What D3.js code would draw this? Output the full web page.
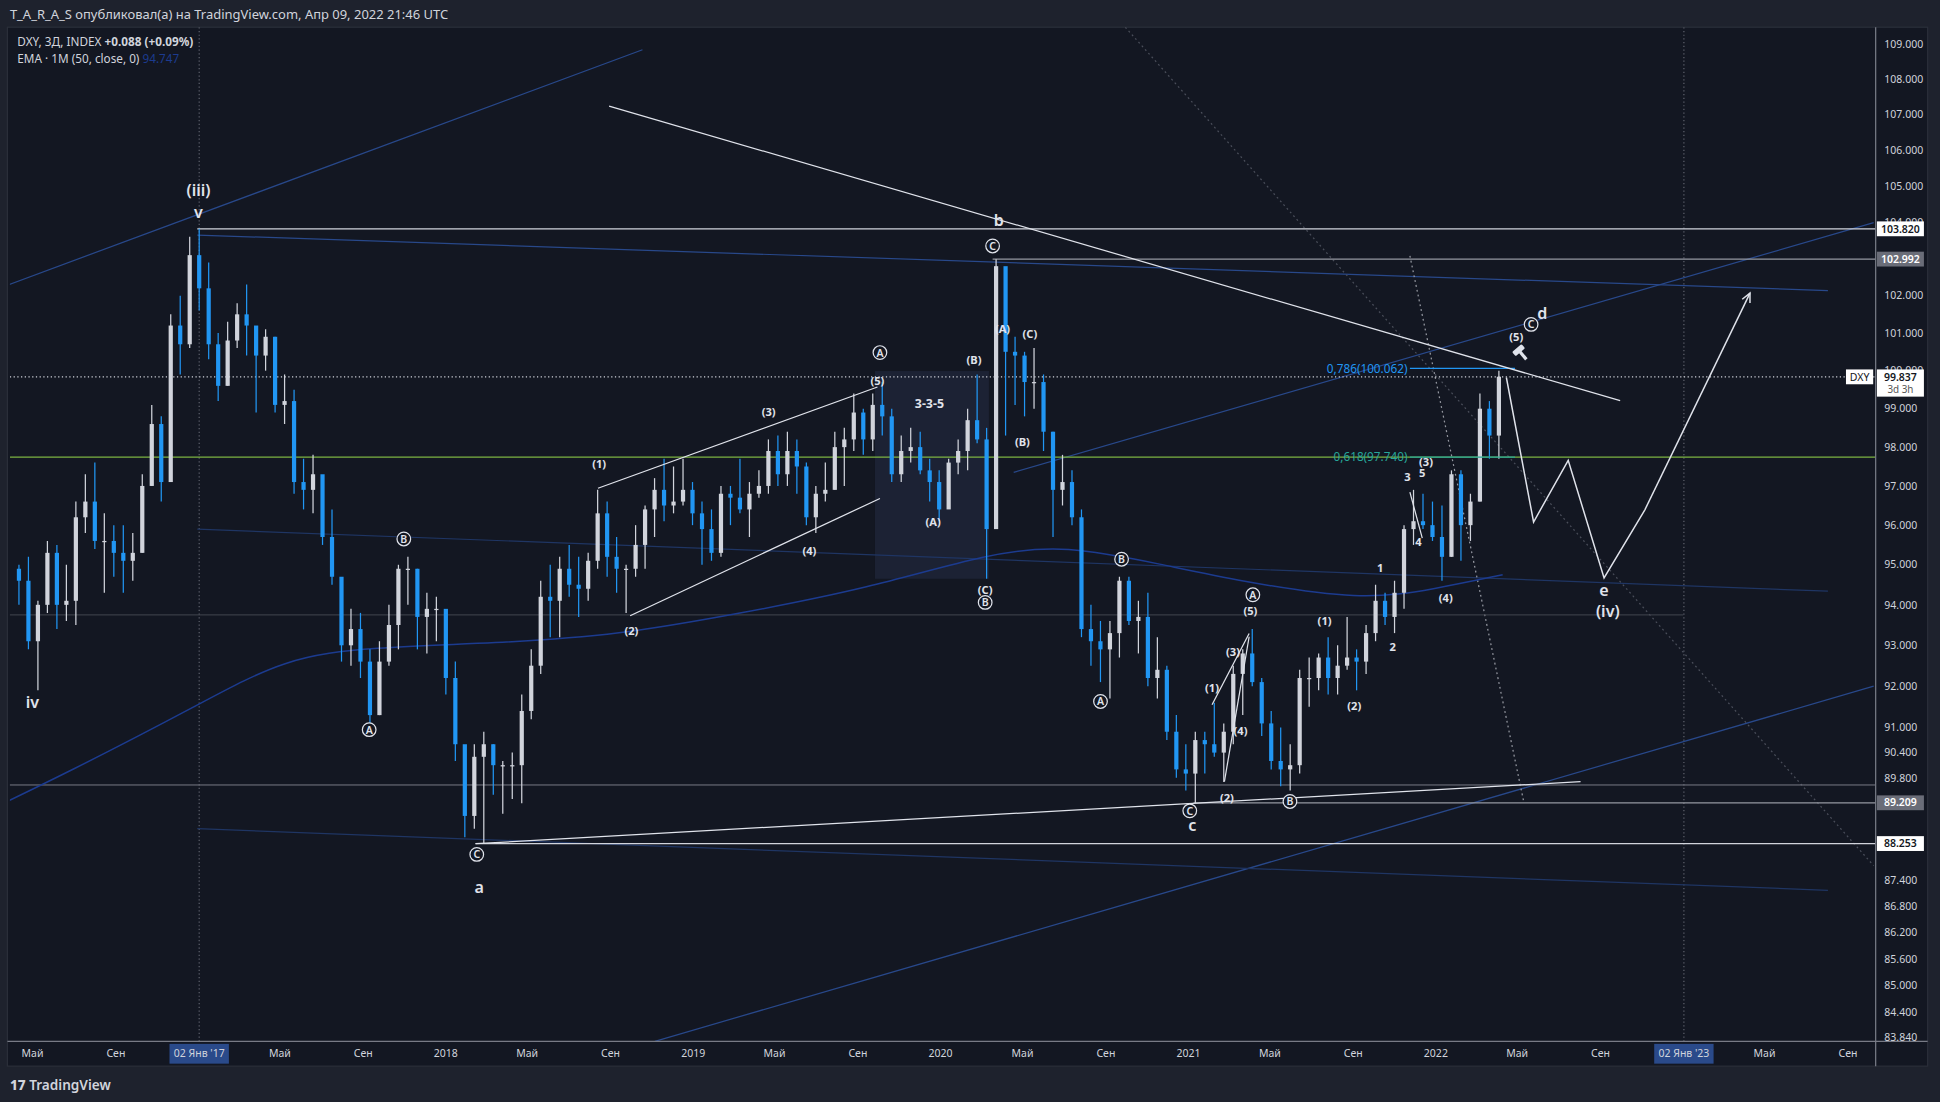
<!DOCTYPE html>
<html>
<head>
<meta charset="utf-8">
<script src="https://cdn.jsdelivr.net/npm/d3@7/dist/d3.min.js"></script>
<style>
  html, body { margin: 0; padding: 0; background: #1e222d; overflow: hidden; }
  svg text { font-family: "Noto Sans", "DejaVu Sans", sans-serif; }
</style>
</head>
<body>
<svg id="chart" width="1940" height="1102" viewBox="0 0 1568 891" preserveAspectRatio="none"></svg>
<script>
// ---- data: 2-week DXY candles starting 2016-04-04 ----
const startDate = new Date(2016, 3, 4);
const closes = [94.6,93.1,94.0,95.3,94.0,94.1,96.2,96.6,95.6,95.6,95.3,95.1,95.3,97.0,98.6,97.1,101.2,100.7,103.1,102.2,
  100.7,99.6,100.8,101.5,101.2,100.4,100.9,99.1,99.2,97.1,96.9,97.3,95.7,94.7,93.0,93.4,92.6,91.3,92.6,93.5,
  94.9,94.9,93.7,93.9,93.9,92.2,90.6,88.9,90.3,90.6,90.1,90.1,90.1,91.4,92.5,94.2,94.1,94.9,94.5,94.4,
  95.1,96.3,95.2,94.9,94.9,95.5,96.4,96.9,96.5,96.6,96.9,96.3,95.9,95.3,96.8,96.7,96.4,96.8,97.0,97.9,
  97.3,97.9,97.5,96.2,96.8,96.9,98.0,98.2,98.9,98.2,99.1,98.8,97.3,97.9,98.0,97.4,97.1,96.4,97.6,97.9,
  98.7,98.2,95.9,102.8,100.5,100.4,99.7,99.7,98.4,96.9,97.1,96.2,93.4,93.1,92.9,93.3,94.6,93.6,93.7,92.2,
  92.4,90.9,90.0,89.9,90.7,90.6,90.4,90.9,92.3,92.8,92.1,91.1,90.2,90.0,90.1,92.2,92.2,92.7,92.2,92.5,
  92.7,92.6,93.3,94.1,93.7,94.3,95.9,96.1,96.0,95.7,95.2,97.3,96.0,96.6,99.0,98.3,99.84];
const highs = [95.0,95.2,94.1,95.6,95.5,95.0,96.6,97.3,97.6,96.3,96.0,96.0,95.8,97.3,99.1,98.8,101.5,102.0,103.6,103.82,
  102.9,101.0,101.3,101.8,102.3,101.1,101.1,100.9,99.9,99.5,97.7,97.8,97.2,96.4,94.5,93.9,93.8,92.9,93.1,94.0,
  95.0,95.2,94.9,94.3,94.2,93.8,92.6,90.5,90.6,90.9,90.6,90.2,90.4,91.8,92.9,94.6,95.0,95.2,95.5,95.2,
  95.3,96.9,96.6,95.7,95.0,96.0,96.5,97.2,97.7,97.5,97.7,97.1,96.6,96.4,97.0,97.0,97.7,97.1,97.4,98.2,
  98.3,98.4,98.2,97.6,97.0,97.6,98.4,98.5,99.4,99.0,99.4,99.7,99.0,98.3,98.5,98.4,97.7,97.4,97.7,98.2,
  99.0,99.9,98.5,102.99,101.0,100.9,100.5,100.6,99.9,98.4,97.8,97.4,96.4,94.0,93.6,93.6,94.7,94.7,94.1,94.3,
  93.2,92.5,91.3,90.6,90.9,90.9,91.6,91.1,92.5,92.9,93.4,92.2,91.4,91.0,90.6,92.4,92.7,92.8,93.2,93.0,
  93.7,92.9,93.5,94.5,94.3,94.6,96.0,96.9,96.8,96.6,96.5,97.4,97.4,96.8,99.4,99.2,100.0];
const lows = [94.0,92.9,91.9,93.8,93.4,93.6,93.5,95.8,95.4,94.3,94.7,94.3,94.6,95.3,97.0,96.6,97.3,99.9,100.6,101.6,
  100.3,99.2,99.6,100.6,100.4,98.9,100.0,98.9,98.6,96.8,96.4,96.3,95.5,94.5,92.6,92.5,92.2,91.0,91.3,92.5,
  92.9,94.0,92.9,92.8,93.1,91.8,90.2,88.4,88.6,88.25,89.4,88.95,89.3,89.2,91.2,92.3,93.2,93.2,94.2,93.7,
  94.1,94.9,94.7,94.3,93.8,94.7,94.9,95.7,96.1,96.3,96.5,96.0,95.0,95.1,95.2,96.0,96.3,95.7,96.7,96.8,
  97.0,97.0,96.8,96.0,95.8,96.6,96.9,97.0,97.9,97.8,97.9,98.3,97.1,97.1,97.6,97.3,96.6,96.1,96.5,97.3,
  97.4,98.1,94.65,95.9,98.3,99.1,98.8,99.0,97.9,95.7,96.5,96.0,93.2,92.5,92.1,91.7,92.7,93.5,92.8,92.0,
  91.7,90.7,89.8,89.5,89.2,89.9,90.3,89.7,90.6,91.3,92.0,90.8,90.0,89.6,89.5,89.9,91.5,91.9,91.8,91.8,
  92.4,91.9,92.3,93.1,93.5,93.3,93.9,95.5,95.9,95.6,94.6,95.2,95.1,95.6,96.6,97.7,97.7];

// EMA 1M(50) reading
const emaYears = [2016.0, 2016.5, 2017.0, 2017.35, 2017.7, 2018.2, 2018.7, 2019.2, 2019.7, 2020.2, 2020.5, 2020.9, 2021.2, 2021.7, 2022.0, 2022.27];
const emaValues = [88.6, 90.0, 91.55, 92.7, 92.95, 93.05, 93.25, 93.8, 94.4, 95.3, 95.5, 95.0, 94.6, 94.1, 94.4, 94.75];

const priceTicks = [109, 108, 107, 106, 105, 104, 103, 102, 101, 100, 99, 98, 97, 96, 95, 94, 93, 92, 91, 90.4, 89.8, 87.4, 86.8, 86.2, 85.6, 85.0, 84.4, 83.84];
const timeTicks = [["2016-05-01","Май"],["2016-09-01","Сен"],["2017-01-02","02 Янв '17"],["2017-05-01","Май"],["2017-09-01","Сен"],
  ["2018-01-01","2018"],["2018-05-01","Май"],["2018-09-01","Сен"],["2019-01-01","2019"],["2019-05-01","Май"],["2019-09-01","Сен"],
  ["2020-01-01","2020"],["2020-05-01","Май"],["2020-09-01","Сен"],["2021-01-01","2021"],["2021-05-01","Май"],["2021-09-01","Сен"],
  ["2022-01-01","2022"],["2022-05-01","Май"],["2022-09-01","Сен"],["2023-01-02","02 Янв '23"],["2023-05-01","Май"],["2023-09-01","Сен"]];

// drawings [year, price]
const triangleUpper = [[2018.66, 107.24], [2022.745, 99.21]];
const triangleLower = [[2018.12, 88.25], [2022.585, 89.71]];
const channelTop = [[2018.615, 96.94], [2019.745, 99.57]];
const channelBottom = [[2018.745, 93.73], [2019.755, 96.68]];
const blueLines = [
  [[2016.235, 102.30], [2018.795, 108.85]],
  [[2016.995, 103.65], [2023.585, 102.14]],
  [[2020.295, 97.35], [2023.77, 103.99]],
  [[2018.845, 83.76], [2023.77, 92.0]],
  [[2016.995, 88.6], [2023.585, 87.17]],
  [[2016.995, 95.9], [2023.585, 94.34]]];
const dottedLines = [[[2020.745, 109.5], [2023.77, 87.74]], [[2021.895, 103.08], [2022.355, 89.24]]];
const projection = [[2022.285, 99.82], [2022.395, 96.08], [2022.535, 97.66], [2022.68, 94.67], [2022.845, 96.39]];
const projectionArrow = [[2022.845, 96.39], [2023.27, 102.07]];
const smallWaves = [[[2021.095, 91.55], [2021.245, 93.29]], [[2021.145, 89.71], [2021.245, 93.21]], [[2021.895, 96.84], [2021.945, 95.67]]];
const boxZone = [[2019.735, 99.99], [2020.195, 94.65]];
const levels = [
  { p: 103.82, from: 2016.995, color: "#d1d4dc", w: 1 },
  { p: 102.992, from: 2020.21, color: "#9598a1", w: 1 },
  { p: 89.209, from: 2021.02, color: "#9598a1", w: 1 },
  { p: 88.253, from: 2018.12, color: "#d1d4dc", w: 1 },
  { p: 89.63, from: 2016.0, color: "#787b86", w: 0.8 },
  { p: 93.75, from: 2016.0, to: 2023.0, color: "#434651", w: 0.8 }];
const fibs = [{ p: 100.062, label: "0,786(100.062)", color: "#2196f3" }, { p: 97.74, label: "0,618(97.740)", color: "#26a69a" }];

const bigLabels = [["(iii)", 2017.0, 104.9], ["v", 2017.0, 104.3], ["iv", 2016.33, 91.63], ["a", 2018.135, 87.25], ["b", 2020.235, 104.06],
  ["c", 2021.015, 88.69], ["d", 2022.43, 101.54], ["e", 2022.68, 94.37], ["(iv)", 2022.695, 93.86]];
const circled = [["A", 2017.69, 90.95], ["B", 2017.83, 95.65], ["C", 2018.125, 88.0], ["A", 2019.755, 100.48], ["C", 2020.21, 103.35],
  ["B", 2020.18, 94.06], ["B", 2020.73, 95.14], ["A", 2020.645, 91.63], ["A", 2021.26, 94.25], ["C", 2021.005, 89.02],
  ["B", 2021.41, 89.24], ["C", 2022.385, 101.23]];
const smallLabels = [["(1)", 2018.62, 97.57], ["(2)", 2018.75, 93.36], ["(3)", 2019.305, 98.92], ["(4)", 2019.47, 95.36], ["(5)", 2019.745, 99.73],
  ["(B)", 2020.135, 100.29], ["(A)", 2020.25, 101.11], ["(C)", 2020.36, 100.98], ["(B)", 2020.33, 98.14], ["(A)", 2019.97, 96.08], ["(C)", 2020.18, 94.37],
  ["(1)", 2021.095, 91.97], ["(3)", 2021.18, 92.84], ["(4)", 2021.21, 90.92], ["(2)", 2021.155, 89.33], ["(5)", 2021.25, 93.86],
  ["(1)", 2021.55, 93.6], ["(2)", 2021.67, 91.52], ["(3)", 2021.96, 97.63], ["(4)", 2022.04, 94.18], ["(5)", 2022.325, 100.91],
  ["3", 2021.885, 97.25], ["5", 2021.945, 97.35], ["4", 2021.93, 95.58], ["1", 2021.775, 94.93], ["2", 2021.825, 92.96], ["3-3-5", 2019.955, 99.12]];

// ---- layout ----
const L = 8, R = 1516, T = 22, B = 842;
const svg = d3.select("#chart");
const yearDate = t => { const y = Math.floor(t); const a = new Date(y, 0, 1), b = new Date(y + 1, 0, 1); return new Date(+a + (t - y) * (b - a)); };
const x = d3.scaleTime().domain([new Date(2017, 0, 2), new Date(2023, 0, 2)]).range([161, 1361]);
const y = d3.scaleLog().domain([83.84, 103.82]).range([839, 185]);
const pt = d => [x(yearDate(d[0])), y(d[1])];

svg.append("rect").attr("width", 1568).attr("height", 891).attr("fill", "#1e222d");
svg.append("rect").attr("x", 6).attr("y", 22).attr("width", 1552).attr("height", 840).attr("fill", "#131722").attr("stroke", "#2a2e39");
svg.append("text").attr("x", 8).attr("y", 15).attr("fill", "#d1d4dc").attr("font-size", 10.5)
  .text("T_A_R_A_S опубликовал(а) на TradingView.com, Апр 09, 2022 21:46 UTC");

svg.append("clipPath").attr("id", "plot").append("rect").attr("x", L).attr("y", T).attr("width", R - L).attr("height", B - T);
const g = svg.append("g").attr("clip-path", "url(#plot)");

// vertical dotted markers
[new Date(2017, 0, 2), new Date(2023, 0, 2)].forEach(d => g.append("line").attr("x1", x(d)).attr("x2", x(d)).attr("y1", T).attr("y2", B)
  .attr("stroke", "#5d606b").attr("stroke-dasharray", "1,2"));

// zone
g.append("rect").attr("x", pt(boxZone[0])[0]).attr("y", pt(boxZone[0])[1])
  .attr("width", pt(boxZone[1])[0] - pt(boxZone[0])[0]).attr("height", pt(boxZone[1])[1] - pt(boxZone[0])[1])
  .attr("fill", "#2a3550").attr("opacity", 0.4);

const seg = (pts, color, w, dash) => g.append("path").attr("d", d3.line()(pts.map(pt))).attr("fill", "none")
  .attr("stroke", color).attr("stroke-width", w).attr("stroke-dasharray", dash || null);

blueLines.forEach((l, i) => seg(l, i >= 4 ? "#1f3563" : "#28488a", 1));
dottedLines.forEach((l, i) => seg(l, i ? "#9598a1" : "#4a4e5a", 1, "1.5,2.5"));
levels.forEach(l => g.append("line").attr("x1", x(yearDate(l.from))).attr("x2", l.to ? x(yearDate(l.to)) : R)
  .attr("y1", y(l.p)).attr("y2", y(l.p)).attr("stroke", l.color).attr("stroke-width", l.w));
g.append("line").attr("x1", L).attr("x2", R).attr("y1", y(97.74)).attr("y2", y(97.74)).attr("stroke", "#7cb342").attr("stroke-width", 1);
g.append("line").attr("x1", L).attr("x2", R).attr("y1", y(99.837)).attr("y2", y(99.837)).attr("stroke", "#d1d4dc").attr("stroke-dasharray", "1,2");

// EMA
g.append("path").attr("d", d3.line().curve(d3.curveBasis)(emaYears.map((t, i) => pt([t, emaValues[i]]))))
  .attr("fill", "none").attr("stroke", "#1c3b8f").attr("stroke-width", 1.2);

// candles
const candles = closes.map((c, i) => ({ date: d3.timeDay.offset(startDate, i * 14 + 7), o: i ? closes[i - 1] : 94.9, h: highs[i], l: lows[i], c }));
const cg = g.append("g").selectAll("g").data(candles).join("g");
cg.append("line").attr("x1", d => x(d.date)).attr("x2", d => x(d.date)).attr("y1", d => y(d.h)).attr("y2", d => y(d.l))
  .attr("stroke", d => d.c >= d.o ? "#d1d4dc" : "#2196f3");
cg.append("rect").attr("x", d => x(d.date) - 1.7).attr("width", 3.4)
  .attr("y", d => y(Math.max(d.o, d.c))).attr("height", d => Math.max(1, Math.abs(y(d.o) - y(d.c))))
  .attr("fill", d => d.c >= d.o ? "#d1d4dc" : "#2196f3");

// fibs
fibs.forEach(f => {
  g.append("line").attr("x1", x(yearDate(2021.895))).attr("x2", x(yearDate(2022.32))).attr("y1", y(f.p)).attr("y2", y(f.p)).attr("stroke", f.color);
  g.append("text").attr("x", x(yearDate(2021.885))).attr("y", y(f.p) + 3.5).attr("text-anchor", "end").attr("font-size", 9.5).attr("fill", f.color).text(f.label);
});

// white drawings
[triangleUpper, triangleLower, channelTop, channelBottom, ...smallWaves].forEach(l => seg(l, "#e0e3eb", 1));
seg(projection, "#e0e3eb", 1.2);
seg(projectionArrow, "#e0e3eb", 1.2);
const a1 = pt(projectionArrow[0]), a2 = pt(projectionArrow[1]);
const ang = Math.atan2(a2[1] - a1[1], a2[0] - a1[0]);
g.append("path").attr("d", d3.line()([[a2[0] - 8 * Math.cos(ang - 0.45), a2[1] - 8 * Math.sin(ang - 0.45)], a2,
  [a2[0] - 8 * Math.cos(ang + 0.45), a2[1] - 8 * Math.sin(ang + 0.45)]])).attr("fill", "none").attr("stroke", "#e0e3eb").attr("stroke-width", 1.2);

// labels
const lab = g.append("g").attr("fill", "#e0e3eb").attr("text-anchor", "middle");
bigLabels.forEach(d => lab.append("text").attr("x", pt(d.slice(1))[0]).attr("y", pt(d.slice(1))[1] + 5)
  .attr("font-size", 13).attr("font-weight", 600).text(d[0]));
circled.forEach(d => {
  const p = pt(d.slice(1));
  lab.append("circle").attr("cx", p[0]).attr("cy", p[1]).attr("r", 5.5).attr("fill", "#131722").attr("stroke", "#e0e3eb");
  lab.append("text").attr("x", p[0]).attr("y", p[1] + 3.2).attr("font-size", 8.5).attr("font-weight", 600).text(d[0]);
});
smallLabels.forEach(d => lab.append("text").attr("x", pt(d.slice(1))[0]).attr("y", pt(d.slice(1))[1] + 3.5)
  .attr("font-size", d[0] === "3-3-5" ? 10 : 9).attr("font-weight", 700).text(d[0]));
// hammer glyph
const hp = pt([2022.34, 100.5]);
lab.append("g").attr("transform", `translate(${hp[0]},${hp[1]}) rotate(-40)`).call(s => {
  s.append("rect").attr("x", -5).attr("y", -4).attr("width", 10).attr("height", 4.5).attr("rx", 1);
  s.append("rect").attr("x", -1.3).attr("y", 0).attr("width", 2.6).attr("height", 8);
});

// legend
svg.append("text").attr("x", 14).attr("y", 37).attr("font-size", 9.5).attr("fill", "#d1d4dc")
  .call(t => { t.append("tspan").text("DXY, 3Д, INDEX  "); t.append("tspan").attr("font-weight", 700).text("+0.088 (+0.09%)"); });
svg.append("text").attr("x", 14).attr("y", 51).attr("font-size", 9.5).attr("fill", "#d1d4dc")
  .call(t => { t.append("tspan").text("EMA · 1M (50, close, 0)  "); t.append("tspan").attr("fill", "#1c3b8f").text("94.747"); });

// price axis
svg.append("line").attr("x1", R).attr("x2", R).attr("y1", T).attr("y2", 862).attr("stroke", "#787b86");
svg.append("line").attr("x1", 6).attr("x2", 1558).attr("y1", B).attr("y2", B).attr("stroke", "#787b86");
svg.append("g").selectAll("text").data(priceTicks).join("text").attr("x", 1523).attr("y", d => y(d) + 3)
  .attr("font-size", 8.5).attr("fill", "#d1d4dc").text(d => d.toFixed(3));
const tag = (p, txt, bg, fg, sub) => {
  const yy = y(p);
  svg.append("rect").attr("x", R + 1).attr("y", yy - 6).attr("width", 38).attr("height", sub ? 22 : 12).attr("fill", bg);
  svg.append("text").attr("x", R + 20).attr("y", yy + 3).attr("text-anchor", "middle").attr("font-size", 8.5).attr("fill", fg).attr("font-weight", 600).text(txt);
  if (sub) svg.append("text").attr("x", R + 20).attr("y", yy + 13).attr("text-anchor", "middle").attr("font-size", 8).attr("fill", "#555").text(sub);
};
tag(103.82, "103.820", "#ffffff", "#131722");
tag(102.992, "102.992", "#6a6d78", "#ffffff");
tag(99.837, "99.837", "#ffffff", "#131722", "3d 3h");
tag(89.209, "89.209", "#6a6d78", "#ffffff");
tag(88.253, "88.253", "#ffffff", "#131722");
svg.append("rect").attr("x", R - 24).attr("y", y(99.837) - 6).attr("width", 22).attr("height", 12).attr("fill", "#ffffff");
svg.append("text").attr("x", R - 13).attr("y", y(99.837) + 3).attr("text-anchor", "middle").attr("font-size", 8.5).attr("fill", "#131722").text("DXY");

// time axis
const tg = svg.append("g").selectAll("g").data(timeTicks).join("g").attr("transform", d => `translate(${x(d3.timeParse("%Y-%m-%d")(d[0]))},855)`);
tg.filter(d => d[1].startsWith("02")).append("rect").attr("x", -24).attr("y", -11).attr("width", 48).attr("height", 16).attr("fill", "#2a4a8a");
tg.append("text").attr("text-anchor", "middle").attr("font-size", 8.5).attr("fill", "#d1d4dc").text(d => d[1]);

// footer
svg.append("text").attr("x", 8).attr("y", 881).attr("font-size", 11).attr("fill", "#d1d4dc")
  .call(t => { t.append("tspan").attr("font-weight", 800).text("17 "); t.append("tspan").attr("font-weight", 600).text("TradingView"); });
</script>
</body>
</html>
